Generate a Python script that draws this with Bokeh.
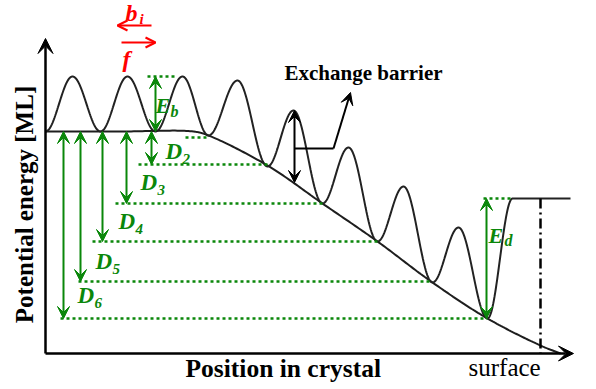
import numpy as np
from bokeh.plotting import figure
from bokeh.models import Range1d, Arrow, VeeHead, OpenHead, ColumnDataSource, Label
from bokeh.core.properties import value
from bokeh.embed import file_html
from bokeh.resources import INLINE

# ---------------- data (diagram units; energy axis grows downward) ----------------
# extrema of the potential-energy profile (minimum, maximum, minimum, ...)
wig_x = [45, 72, 100, 127, 155, 182, 208, 237, 267, 293, 322, 348, 377, 403, 432, 458, 487, 512, 570]
wig_y = [131, 76, 131, 76, 131, 76, 135, 80, 166, 110, 203, 147, 241, 186, 282, 227, 318, 198, 198]
# envelope (bulk level bending down towards the surface)
env_x = [45, 120, 193, 208, 267, 322, 377, 432, 487, 540, 560]
env_y = [131, 131, 131, 135, 165, 203, 241, 282, 318, 345, 353]
# desorption levels D2..D6
d_names = ["2", "3", "4", "5", "6"]
d_arrow_x = [151, 126, 102, 80, 63]
d_level = [164, 203, 241, 281, 318]
d_line_start = [138, 115, 92, 78, 60]
d_line_end = [267, 322, 377, 432, 487]
d_label_x = [165, 140, 118, 95, 77]
d_label_y = [151, 182, 221, 261, 295]
bulk_level = 131
# other dotted guides: (level, from, to)
guide_level = [76, 137, 198]
guide_from = [147, 185, 483]
guide_to = [175, 208, 512]
# barrier arrows
eb_x, eb_top, eb_bot = 155, 76, 131
ed_x, ed_top, ed_bot = 486, 198, 318
ex_x, ex_top, ex_bot = 294, 110, 182
surface_x = 540
axis_origin = (45, 353)
axis_x_end = 573
axis_y_end = 38

GREEN = "#0a870a"
RED = "#ff0000"
SERIF = "Liberation Serif"


def catmull_rom(px, py, n=30, alpha=0.5):
    P = np.column_stack([px, py]).astype(float)
    P = np.vstack([2 * P[0] - P[1], P, 2 * P[-1] - P[-2]])
    out = []
    for i in range(1, len(P) - 2):
        p0, p1, p2, p3 = P[i - 1], P[i], P[i + 1], P[i + 2]
        t0 = 0.0
        t1 = t0 + np.linalg.norm(p1 - p0) ** alpha
        t2 = t1 + np.linalg.norm(p2 - p1) ** alpha
        t3 = t2 + np.linalg.norm(p3 - p2) ** alpha
        t = np.linspace(t1, t2, n)[:, None]
        A1 = (t1 - t) / (t1 - t0) * p0 + (t - t0) / (t1 - t0) * p1
        A2 = (t2 - t) / (t2 - t1) * p1 + (t - t1) / (t2 - t1) * p2
        A3 = (t3 - t) / (t3 - t2) * p2 + (t - t2) / (t3 - t2) * p3
        B1 = (t2 - t) / (t2 - t0) * A1 + (t - t0) / (t2 - t0) * A2
        B2 = (t3 - t) / (t3 - t1) * A2 + (t - t1) / (t3 - t1) * A3
        C = (t2 - t) / (t2 - t1) * B1 + (t - t1) / (t2 - t1) * B2
        out.append(C)
    return np.vstack(out)


def wiggle(xs, ys, n=40):
    X, Y = [], []
    for i in range(len(xs) - 1):
        t = np.linspace(0, 1, n)
        X.append(xs[i] + (xs[i + 1] - xs[i]) * t)
        Y.append(ys[i] + (ys[i + 1] - ys[i]) * (1 - np.cos(np.pi * t)) / 2)
    return np.concatenate(X), np.concatenate(Y)


p = figure(width=596, height=389, x_range=Range1d(0, 596), y_range=Range1d(389, 0),
           output_backend="svg", toolbar_location=None, min_border=0,
           x_axis_location=None, y_axis_location=None)
p.grid.visible = False
p.outline_line_color = None
p.background_fill_color = "white"

# envelope and profile
env = catmull_rom(env_x, env_y)
p.line(env[:, 0], env[:, 1], line_color="#1e1e1e", line_width=2)
wx, wy = wiggle(wig_x, wig_y)
p.line(wx, wy, line_color="#222222", line_width=2)

# dotted green guides
p.segment(x0=d_line_start, y0=d_level, x1=d_line_end, y1=d_level,
          line_color=GREEN, line_width=2.5, line_dash="3 3")
p.segment(x0=guide_from, y0=guide_level, x1=guide_to, y1=guide_level,
          line_color=GREEN, line_width=2.5, line_dash="3 3")

# green double arrows
src = ColumnDataSource(dict(x=d_arrow_x, y0=[bulk_level] * len(d_arrow_x), y1=d_level))
p.add_layout(Arrow(x_start="x", y_start="y1", x_end="x", y_end="y0", source=src,
                   line_color=GREEN, line_width=2,
                   start=VeeHead(size=12, fill_color=GREEN, line_color=GREEN),
                   end=VeeHead(size=12, fill_color=GREEN, line_color=GREEN)))
for (ax, a0, a1) in [(eb_x, eb_top, eb_bot), (ed_x, ed_top, ed_bot)]:
    p.add_layout(Arrow(x_start=ax, y_start=a0, x_end=ax, y_end=a1, line_color=GREEN, line_width=2,
                       start=VeeHead(size=12, fill_color=GREEN, line_color=GREEN),
                       end=VeeHead(size=12, fill_color=GREEN, line_color=GREEN)))

# exchange barrier arrow + pointer
p.add_layout(Arrow(x_start=ex_x, y_start=ex_top, x_end=ex_x, y_end=ex_bot, line_color="black", line_width=2,
                   start=VeeHead(size=12, fill_color="black"), end=VeeHead(size=12, fill_color="black")))
p.line([ex_x, 333], [148, 148], line_color="black", line_width=2)
p.add_layout(Arrow(x_start=333, y_start=148, x_end=350, y_end=92, line_color="black", line_width=2,
                   end=VeeHead(size=12, fill_color="black")))

# red hop arrows
p.add_layout(Arrow(x_start=151, y_start=25, x_end=117, y_end=25, line_color=RED, line_width=2.2,
                   end=OpenHead(size=10, line_color=RED, line_width=2.2)))
p.add_layout(Arrow(x_start=121, y_start=42, x_end=155, y_end=42, line_color=RED, line_width=2.2,
                   end=OpenHead(size=10, line_color=RED, line_width=2.2)))

# surface dash-dot line
p.line([surface_x, surface_x], [ed_top, axis_origin[1]], line_color="black", line_width=2.5,
       line_dash="10 4 2 4")

# axes with arrows
p.add_layout(Arrow(x_start=axis_origin[0], y_start=axis_origin[1], x_end=axis_x_end, y_end=axis_origin[1],
                   line_color="black", line_width=2.5, end=VeeHead(size=15, fill_color="black")))
p.add_layout(Arrow(x_start=axis_origin[0], y_start=axis_origin[1], x_end=axis_origin[0], y_end=axis_y_end,
                   line_color="black", line_width=2.5, end=VeeHead(size=15, fill_color="black")))

# labels (anchored at the middle of the capital letters)
common = dict(text_font=value(SERIF), text_baseline="middle", text_align="left")
p.text(x=d_label_x, y=d_label_y, text=["D"] * 5, text_font_style="bold italic",
       text_font_size="23px", text_color=GREEN, **common)
p.text(x=[x + 17 for x in d_label_x], y=[y + 7 for y in d_label_y], text=d_names,
       text_font_style="bold italic", text_font_size="15px", text_color=GREEN, **common)
p.text(x=[155, 488], y=[105, 235], text=["E", "E"], text_font_style="bold italic",
       text_font_size="22px", text_color=GREEN, **common)
p.text(x=[170, 504], y=[111, 240], text=["b", "d"], text_font_style="bold italic",
       text_font_size="16px", text_color=GREEN, **common)
p.text(x=[125, 122], y=[12, 58], text=["b", "f"], text_font_style="bold italic",
       text_font_size="24px", text_color=RED, **common)
p.text(x=[139], y=[18], text=["i"], text_font_style="bold italic",
       text_font_size="15px", text_color=RED, **common)
p.text(x=[284], y=[72], text=["Exchange barrier"], text_font_style="bold",
       text_font_size="21px", text_color="black", **common)
p.text(x=[185], y=[368], text=["Position in crystal"], text_font_style="bold",
       text_font_size="25.5px", text_color="black", **common)
p.text(x=[468], y=[367], text=["surface"], text_font_style="normal",
       text_font_size="25px", text_color="black", **common)
p.add_layout(Label(x=24, y=204, text="Potential energy [ML]", angle=90, angle_units="deg",
                   text_font=SERIF, text_font_style="bold", text_font_size="25px",
                   text_align="center", text_baseline="middle", text_color="black"))

open("out.html", "w").write(file_html(p, INLINE))
